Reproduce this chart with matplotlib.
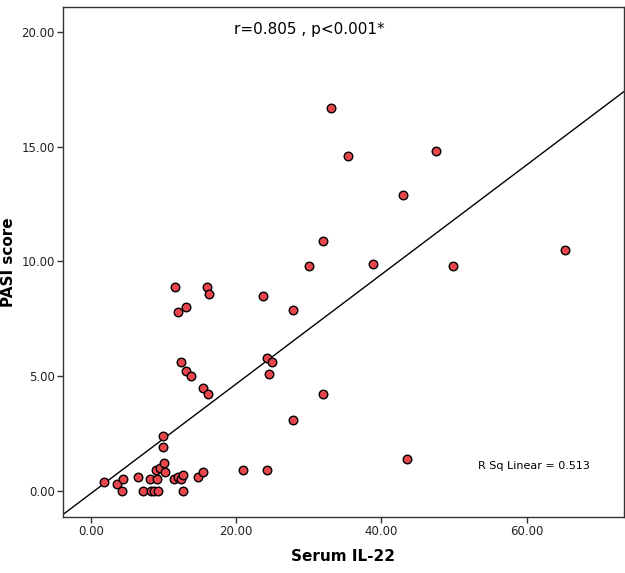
import matplotlib
matplotlib.use("Agg")
import matplotlib.pyplot as plt
import numpy as np

serum_il22 = [
    33.0, 35.4, 47.5, 43.0, 65.3, 32.0, 30.0, 38.8, 49.9, 31.9, 43.5,
    11.6, 16.0, 16.2, 12.0, 13.1, 23.7, 27.8, 12.4, 13.1, 13.8, 15.4, 16.1,
    24.3, 24.9, 24.5, 27.8,
    1.8, 3.6, 4.4, 4.3, 6.5, 7.2, 8.1, 8.3, 8.7, 9.2, 9.1, 8.9, 9.5, 10.2,
    10.0, 9.9, 9.9, 11.4, 12.0, 12.4, 12.7, 12.7, 14.7, 15.4, 21.0, 24.2,
]
pasi_score = [
    16.7, 14.6, 14.8, 12.9, 10.5, 10.9, 9.8, 9.9, 9.8, 4.2, 1.4,
    8.9, 8.9, 8.6, 7.8, 8.0, 8.5, 7.9, 5.6, 5.2, 5.0, 4.5, 4.2,
    5.8, 5.6, 5.1, 3.1,
    0.4, 0.3, 0.5, 0.0, 0.6, 0.0, 0.5, 0.0, 0.0, 0.0, 0.5, 0.9, 1.0, 0.8,
    1.2, 1.9, 2.4, 0.5, 0.6, 0.5, 0.7, 0.0, 0.6, 0.8, 0.9, 0.9,
]
x_ticks = [0, 20, 40, 60]
y_ticks = [0, 5, 10, 15, 20]

x = np.array(serum_il22)
y = np.array(pasi_score)
slope, intercept = np.polyfit(x, y, 1)

fig = plt.figure(figsize=(6.25, 5.73), dpi=100)
ax = fig.add_axes([0.101, 0.098, 0.897, 0.89])
xlim = (-3.85, 73.4)
ylim = (-1.14, 21.1)
ax.set_xlim(*xlim)
ax.set_ylim(*ylim)

xl = np.array(xlim)
ax.plot(xl, slope * xl + intercept, color="black", linewidth=1.0, zorder=2)
ax.scatter(x, y, s=38, color="#e8464c", edgecolors="black",
           linewidths=1.0, zorder=3)

ax.set_xticks(x_ticks)
ax.set_xticklabels([f"{t:.2f}" for t in x_ticks], fontsize=8.5)
ax.set_yticks(y_ticks)
ax.set_yticklabels([f"{t:.2f}" for t in y_ticks], fontsize=8.5)
ax.tick_params(length=4, width=1, pad=2, color="#333333", labelcolor="#222222")
for s in ax.spines.values():
    s.set_linewidth(1.0)
    s.set_color("#333333")

ax.set_xlabel("Serum IL-22", fontsize=11, fontweight="bold", labelpad=8)
ax.set_ylabel("PASI score", fontsize=11, fontweight="bold", labelpad=4)

ax.text(0.44, 0.955, "r=0.805 , p<0.001*", transform=ax.transAxes,
        ha="center", va="center", fontsize=11)
ax.text(0.84, 0.1, "R Sq Linear = 0.513", transform=ax.transAxes,
        ha="center", va="center", fontsize=8)

fig.savefig("out.png", dpi=100)
